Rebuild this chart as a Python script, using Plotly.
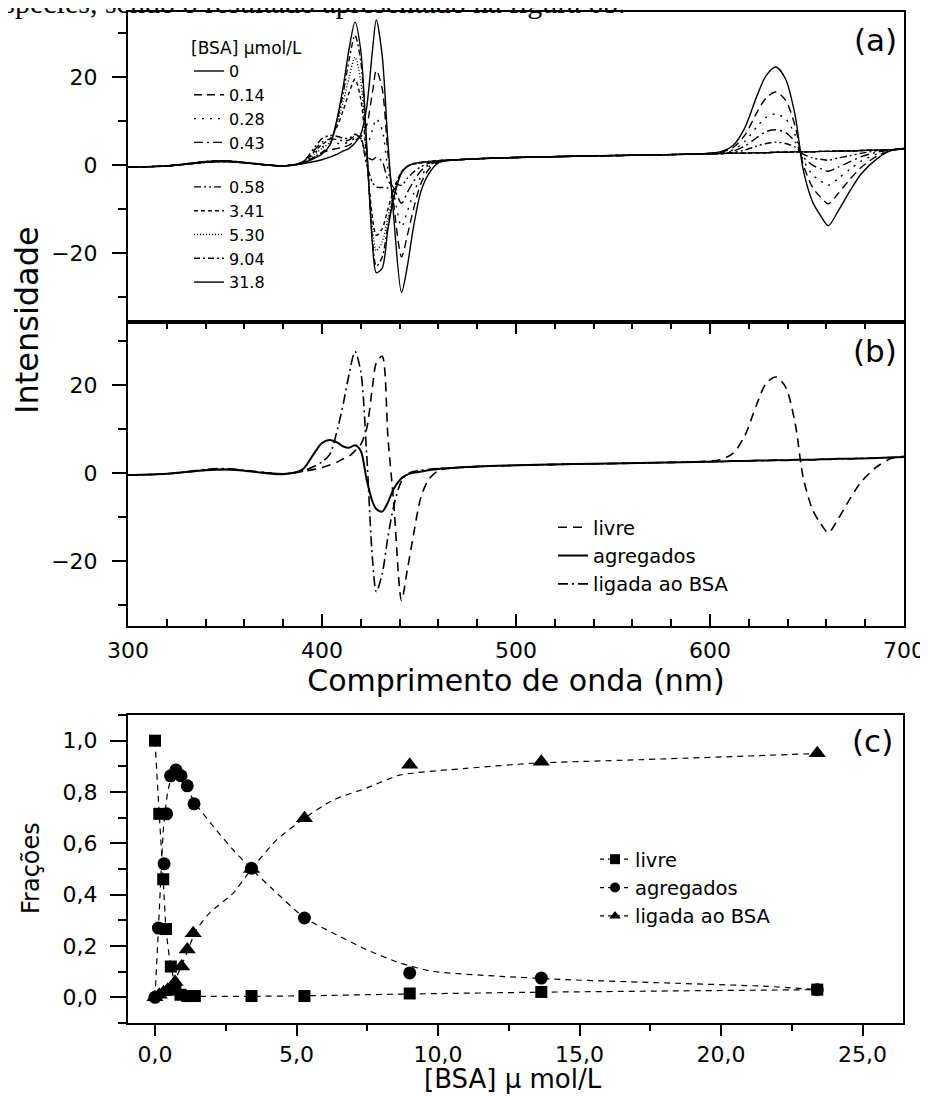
import plotly.graph_objects as go

# ---------------- data ----------------
# wavelength grid (nm) used for all spectra
wl = [300, 320, 340, 350, 360, 380, 390, 396, 400, 404, 408, 411, 414, 417, 420, 423,
      426, 428, 431, 434, 437, 441, 444, 447, 451, 455, 460, 470, 490, 530, 570, 605,
      612, 618, 624, 629, 634, 639, 644, 648, 653, 657, 661, 666, 672, 678, 686, 693, 700]

# panel (b): pure species
livre = [-0.5, -0.2, 0.6, 0.8, 0.5, -0.2, 0.3, 0.8, 1.2, 1.8, 2.5, 3.2, 3.8, 5.0, 6.5, 10.0,
         19.5, 25.0, 26.5, 8.0, -7.0, -29.0, -22.0, -14.5, -5.5, -1.5, 0.5, 1.2, 1.6, 2.0, 2.3, 3.0,
         4.5, 8.5, 15.5, 20.4, 21.8, 19.5, 11.0, -1.0, -8.5, -11.5, -13.6, -10.5, -6.0, -2.0, 1.4, 3.2, 3.8]
agregados = [-0.5, -0.2, 0.6, 0.8, 0.5, -0.3, 0.8, 4.5, 6.8, 7.5, 6.9, 6.0, 5.7, 6.3, 5.0, -1.5,
             -6.5, -8.2, -8.8, -6.7, -3.6, -1.2, -0.4, 0.0, 0.3, 0.6, 0.9, 1.2, 1.6, 2.0, 2.3, 2.6,
             2.7, 2.7, 2.8, 2.8, 2.9, 2.9, 3.0, 3.0, 3.0, 3.1, 3.1, 3.2, 3.2, 3.3, 3.4, 3.5, 3.6]
ligada = [-0.5, -0.2, 0.8, 1.0, 0.6, -0.2, 0.4, 1.5, 2.5, 4.2, 10.0, 15.8, 22.5, 27.6, 23.0, 4.5,
          -19.5, -27.0, -23.0, -14.5, -7.5, -1.8, -0.3, 0.3, 0.6, 0.8, 1.0, 1.2, 1.6, 2.0, 2.3, 2.6,
          2.7, 2.7, 2.8, 2.8, 2.9, 2.9, 3.0, 3.0, 3.0, 3.1, 3.1, 3.2, 3.2, 3.3, 3.4, 3.5, 3.6]

# panel (a): spectra for each [BSA]
bsa_labels = ["0", "0.14", "0.28", "0.43", "0.58", "3.41", "5.30", "9.04", "31.8"]
spec_0 = [-0.5, -0.2, 0.6, 0.8, 0.5, -0.2, 0.3, 0.8, 1.2, 1.8, 2.5, 3.2, 3.8, 5.0, 7.0, 13.0,
          26.0, 33.0, 25.0, 5.0, -12.0, -29.0, -23.0, -14.5, -6.0, -2.0, 0.5, 1.2, 1.6, 2.0, 2.3, 3.0,
          4.5, 8.5, 15.5, 20.4, 22.3, 19.5, 11.0, -1.0, -8.5, -11.5, -13.8, -10.5, -6.0, -2.0, 1.4, 3.2, 3.8]
spec_014 = [-0.5, -0.2, 0.6, 0.8, 0.5, -0.2, 0.4, 1.8, 2.8, 3.4, 3.8, 4.1, 4.5, 5.6, 6.4, 9.0,
            16.5, 21.5, 17.5, 2.5, -9.0, -20.9, -16.0, -10.3, -4.2, -1.0, 0.6, 1.2, 1.6, 2.0, 2.3, 2.9,
            4.0, 6.8, 11.8, 15.3, 16.6, 14.7, 8.7, 0.2, -5.2, -7.3, -8.8, -6.5, -3.3, -0.5, 2.0, 3.3, 3.7]
spec_028 = [-0.5, -0.2, 0.6, 0.8, 0.5, -0.2, 0.6, 2.7, 4.1, 4.8, 4.9, 4.9, 5.2, 6.1, 6.0, 4.5,
            8.0, 10.5, 8.0, -1.0, -6.5, -14.0, -10.5, -6.7, -2.6, -0.4, 0.7, 1.2, 1.6, 2.0, 2.3, 2.8,
            3.5, 5.4, 8.6, 10.9, 11.6, 10.5, 6.7, 1.2, -2.3, -3.6, -4.6, -3.1, -1.0, 0.9, 2.5, 3.4, 3.7]
spec_043 = [-0.5, -0.2, 0.6, 0.8, 0.5, -0.2, 0.7, 3.4, 5.2, 5.9, 5.8, 5.5, 5.7, 6.6, 6.0, 2.0,
            1.2, 1.8, 0.8, -3.5, -5.2, -8.7, -6.2, -3.9, -1.3, 0.0, 0.8, 1.2, 1.6, 2.0, 2.3, 2.7,
            3.2, 4.3, 6.2, 7.6, 8.0, 7.4, 5.2, 1.9, -0.1, -0.8, -1.4, -0.5, 0.7, 1.9, 2.9, 3.4, 3.7]
spec_058 = [-0.5, -0.2, 0.6, 0.8, 0.5, -0.2, 0.7, 3.9, 6.0, 6.7, 6.5, 6.1, 6.1, 7.0, 5.9, 0.1,
            -3.9, -5.0, -5.1, -5.2, -4.2, -4.6, -3.0, -1.7, -0.4, 0.4, 0.9, 1.2, 1.6, 2.0, 2.3, 2.6,
            2.9, 3.4, 4.3, 4.9, 5.2, 4.9, 4.0, 2.5, 1.6, 1.3, 1.1, 1.6, 2.1, 2.7, 3.2, 3.5, 3.6]
spec_341 = [-0.5, -0.2, 0.7, 0.9, 0.5, -0.2, 0.6, 3.0, 4.7, 5.9, 9.0, 12.5, 16.5, 19.5, 15.0, 1.5,
            -12.0, -16.0, -14.5, -10.0, -5.5, -1.5, -0.3, 0.2, 0.5, 0.7, 1.0, 1.2, 1.6, 2.0, 2.3, 2.6,
            2.7, 2.7, 2.8, 2.8, 2.9, 2.9, 3.0, 3.0, 3.0, 3.1, 3.1, 3.2, 3.2, 3.3, 3.4, 3.5, 3.6]
spec_530 = [-0.5, -0.2, 0.7, 0.9, 0.6, -0.2, 0.5, 2.4, 3.8, 5.2, 9.8, 14.5, 20.0, 24.5, 19.0, 2.6,
            -14.5, -19.5, -17.5, -12.0, -6.3, -1.6, -0.3, 0.2, 0.5, 0.7, 1.0, 1.2, 1.6, 2.0, 2.3, 2.6,
            2.7, 2.7, 2.8, 2.8, 2.9, 2.9, 3.0, 3.0, 3.0, 3.1, 3.1, 3.2, 3.2, 3.3, 3.4, 3.5, 3.6]
spec_904 = [-0.5, -0.2, 0.8, 1.0, 0.6, -0.2, 0.4, 1.8, 2.9, 4.5, 10.5, 16.5, 24.0, 29.5, 23.5, 4.0,
            -17.0, -23.0, -21.0, -13.7, -7.1, -1.7, -0.3, 0.3, 0.6, 0.8, 1.0, 1.2, 1.6, 2.0, 2.3, 2.6,
            2.7, 2.7, 2.8, 2.8, 2.9, 2.9, 3.0, 3.0, 3.0, 3.1, 3.1, 3.2, 3.2, 3.3, 3.4, 3.5, 3.6]
spec_318 = [-0.5, -0.2, 0.8, 1.0, 0.6, -0.2, 0.4, 1.5, 2.5, 4.5, 11.0, 18.0, 26.5, 32.5, 26.0, 5.0,
            -18.0, -24.5, -23.5, -14.5, -7.5, -1.8, -0.3, 0.3, 0.6, 0.8, 1.0, 1.2, 1.6, 2.0, 2.3, 2.6,
            2.7, 2.7, 2.8, 2.8, 2.9, 2.9, 3.0, 3.0, 3.0, 3.1, 3.1, 3.2, 3.2, 3.3, 3.4, 3.5, 3.6]

# panel (c): fractions vs [BSA]
livre_x = [0.0, 0.15, 0.29, 0.39, 0.56, 0.72, 0.9, 1.14, 1.41, 3.41, 5.28, 9.0, 13.65, 23.4]
livre_y = [1.0, 0.715, 0.46, 0.266, 0.12, 0.03, 0.01, 0.005, 0.005, 0.005, 0.005, 0.015, 0.021, 0.03]
agreg_x = [0.0, 0.12, 0.32, 0.41, 0.55, 0.74, 0.92, 1.14, 1.38, 3.41, 5.28, 9.0, 13.65, 23.4]
agreg_y = [0.0, 0.27, 0.52, 0.715, 0.863, 0.886, 0.863, 0.824, 0.754, 0.503, 0.309, 0.095, 0.075, 0.03]
ligad_x = [0.0, 0.15, 0.3, 0.45, 0.6, 0.71, 0.94, 1.14, 1.35, 3.41, 5.28, 9.0, 13.65, 23.4]
ligad_y = [0.0, 0.01, 0.02, 0.03, 0.04, 0.06, 0.12, 0.186, 0.25, 0.50, 0.698, 0.906, 0.918, 0.951]

# fitted curves (dashed)
fit_livre_x = [0.0, 0.15, 0.29, 0.39, 0.56, 0.8, 1.1, 2.0, 3.41, 5.28, 9.0, 13.65, 23.4]
fit_livre_y = [1.0, 0.715, 0.46, 0.266, 0.12, 0.03, 0.006, 0.004, 0.004, 0.006, 0.013, 0.02, 0.03]
fit_agreg_x = [0.0, 0.1, 0.2, 0.3, 0.45, 0.6, 0.75, 1.0, 1.4, 2.06, 2.76, 3.41, 4.17, 5.28,
               6.3, 7.47, 8.65, 9.82, 12.2, 14.5, 18.06, 21.6, 23.4]
fit_agreg_y = [0.0, 0.22, 0.45, 0.66, 0.80, 0.86, 0.87, 0.84, 0.76, 0.666, 0.575, 0.50, 0.42, 0.31,
               0.25, 0.186, 0.134, 0.101, 0.082, 0.069, 0.056, 0.043, 0.03]
fit_ligad_x = [0.0, 0.3, 0.65, 1.0, 1.47, 1.94, 2.76, 3.41, 4.3, 5.28, 6.3, 7.47, 8.65, 11.0,
               13.35, 16.9, 20.4, 23.4]
fit_ligad_y = [0.0, 0.01, 0.056, 0.14, 0.264, 0.33, 0.406, 0.50, 0.614, 0.698, 0.769, 0.815, 0.866,
               0.892, 0.912, 0.925, 0.938, 0.95]

# ---------------- figure ----------------
# the page body adds an 8px margin; all positions below are given in window pixels
OFF = 8
W, H = 928 - 2 * OFF, 1097 - OFF
FONT = "DejaVu Sans"


def px_x(p):
    return (p - OFF) / W


def px_y(p):
    return 1 - (p - OFF) / H


fig = go.Figure()

spectra_a = [spec_0, spec_014, spec_028, spec_043, spec_058, spec_341, spec_530, spec_904, spec_318]
dashes_a = ["solid", "8px,5px", "2px,6px", "9px,4px,2px,4px", "7px,3px,2px,3px,2px,3px",
            "4px,3px", "1px,2px", "6px,3px,2px,3px", "solid"]
for i, (lab, ys, ds) in enumerate(zip(bsa_labels, spectra_a, dashes_a)):
    fig.add_trace(go.Scatter(
        x=wl, y=ys, mode="lines", name=lab,
        line=dict(color="black", width=1.4, dash=ds, shape="spline", smoothing=0.8),
        xaxis="x", yaxis="y", legend="legend" if i < 4 else "legend2"))

for name, ys, ds, w in [("livre", livre, "9px,6px", 1.6), ("agregados", agregados, "solid", 2),
                        ("ligada ao BSA", ligada, "10px,4px,2px,4px", 1.6)]:
    fig.add_trace(go.Scatter(
        x=wl, y=ys, mode="lines", name=name,
        line=dict(color="black", width=w, dash=ds, shape="spline", smoothing=0.8),
        xaxis="x2", yaxis="y2", legend="legend3"))

for fx, fy in [(fit_livre_x, fit_livre_y), (fit_agreg_x, fit_agreg_y), (fit_ligad_x, fit_ligad_y)]:
    fig.add_trace(go.Scatter(x=fx, y=fy, mode="lines", showlegend=False,
                             line=dict(color="black", width=1.2, dash="6px,5px", shape="spline", smoothing=0.6),
                             xaxis="x3", yaxis="y3"))
for name, px_, py_, sym, sz in [("livre", livre_x, livre_y, "square", 12),
                                ("agregados", agreg_x, agreg_y, "circle", 13),
                                ("ligada ao BSA", ligad_x, ligad_y, "triangle-up", 15)]:
    fig.add_trace(go.Scatter(x=px_, y=py_, mode="markers", showlegend=False,
                             marker=dict(symbol=sym, size=sz, color="black"), xaxis="x3", yaxis="y3"))
    # legend proxy (no data drawn)
    fig.add_trace(go.Scatter(x=[None], y=[None], mode="lines+markers", name=name,
                             marker=dict(symbol=sym, size=10, color="black"),
                             line=dict(color="black", width=1.2, dash="4px,4px"),
                             xaxis="x3", yaxis="y3", legend="legend4"))

xdom = [px_x(128), px_x(904)]
axis_common = dict(showline=True, linecolor="black", linewidth=2, showgrid=False, zeroline=False,
                   automargin=False, tickcolor="black", tickwidth=2, ticklabeloverflow="allow")
tickfont = dict(family=FONT, size=22, color="black")


def ann(text, x, y, size, angle=0, family=FONT):
    return dict(text=text, x=px_x(x), y=px_y(y), xref="paper", yref="paper", xanchor="center",
                yanchor="middle", showarrow=False, textangle=angle,
                font=dict(family=family, size=size, color="black"))


fig.update_layout(
    width=W, height=H, margin=dict(l=0, r=0, t=0, b=0, autoexpand=False),
    paper_bgcolor="white", plot_bgcolor="white",
    font=dict(family=FONT, color="black"),
    separators=",.",
    xaxis=dict(domain=xdom, range=[300, 700], anchor="y", showticklabels=False, ticks="", mirror=True,
               **axis_common),
    yaxis=dict(domain=[px_y(322), px_y(12)], range=[-35.7, 34.8], anchor="x", mirror=True,
               tickvals=[-20, 0, 20], ticks="outside", ticklen=14, ticklabelstandoff=10, tickfont=tickfont,
               minor=dict(tickvals=[-30, -10, 10, 30], ticks="outside", ticklen=8, tickcolor="black", tickwidth=2),
               **axis_common),
    xaxis2=dict(domain=xdom, range=[300, 700], anchor="y2", mirror="ticks", dtick=100, tick0=300,
                ticks="inside", ticklen=12, ticklabelstandoff=4, tickfont=tickfont,
                minor=dict(dtick=20, ticks="inside", ticklen=7, tickcolor="black", tickwidth=2),
                title=dict(text="Comprimento de onda (nm)", font=dict(family=FONT, size=30, color="black"), standoff=4),
                **axis_common),
    yaxis2=dict(domain=[px_y(626), px_y(322)], range=[-34.8, 34.3], anchor="x2", mirror=True,
                tickvals=[-20, 0, 20], ticks="outside", ticklen=14, ticklabelstandoff=10, tickfont=tickfont,
                minor=dict(tickvals=[-30, -10, 10, 30], ticks="outside", ticklen=8, tickcolor="black", tickwidth=2),
                **axis_common),
    xaxis3=dict(domain=[px_x(128), px_x(903)], range=[-0.954, 26.43], anchor="y3", mirror=True,
                dtick=5, tick0=0, tickformat=".1f", ticks="outside", ticklen=11, ticklabelstandoff=0,
                tickfont=tickfont,
                minor=dict(dtick=2.5, ticks="outside", ticklen=6, tickcolor="black", tickwidth=2),
                **axis_common),
    yaxis3=dict(domain=[px_y(1023), px_y(715)], range=[-0.1, 1.1], anchor="x3", mirror=True,
                dtick=0.2, tick0=0, tickformat=".1f", ticks="outside", ticklen=16, ticklabelstandoff=8,
                tickfont=tickfont,
                minor=dict(dtick=0.1, ticks="outside", ticklen=8, tickcolor="black", tickwidth=2),
                **axis_common),
    legend=dict(x=px_x(189), y=px_y(32), xanchor="left", yanchor="top", bgcolor="rgba(0,0,0,0)",
                title=dict(text="[BSA] μmol/L", font=dict(family=FONT, size=17)),
                font=dict(family=FONT, size=16), tracegroupgap=0),
    legend2=dict(x=px_x(189), y=px_y(170), xanchor="left", yanchor="top", bgcolor="rgba(0,0,0,0)",
                 font=dict(family=FONT, size=16), tracegroupgap=0),
    legend3=dict(x=px_x(553), y=px_y(508), xanchor="left", yanchor="top", bgcolor="rgba(0,0,0,0)",
                 font=dict(family=FONT, size=19.5), tracegroupgap=0),
    legend4=dict(x=px_x(595), y=px_y(840), xanchor="left", yanchor="top", bgcolor="rgba(0,0,0,0)",
                 font=dict(family=FONT, size=19.5), tracegroupgap=0),
    annotations=[
        dict(text="espécies, sendo o resultado apresentado na figura 6b.", x=px_x(-12), y=px_y(3),
             xref="paper", yref="paper", xanchor="left", yanchor="middle", showarrow=False,
             font=dict(family="Liberation Serif", size=30, color="black")),
        ann("Intensidade", 27, 320, 32, -90),
        ann("Frações", 31, 868, 24, -90),
        ann("[BSA] μ mol/L", 513, 1079, 26),
        ann("(a)", 875, 40, 31),
        ann("(b)", 875, 351, 31),
        ann("(c)", 872, 741, 31),
    ],
)

fig.write_html("out.html")
